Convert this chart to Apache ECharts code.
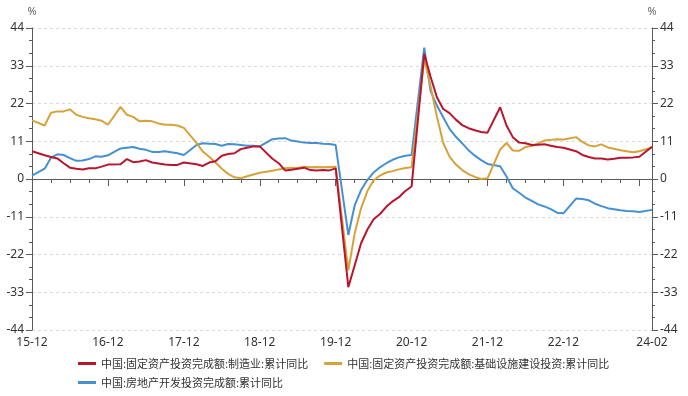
<!DOCTYPE html>
<html><head><meta charset="utf-8">
<script src="https://cdn.jsdelivr.net/npm/echarts@6/dist/echarts.min.js"></script>
<style>html,body{margin:0;padding:0;background:#fff}#c{width:688px;height:396px}</style>
</head><body><div id="c"></div>
<script>
var months = [
'15-12',
'16-01','16-02','16-03','16-04','16-05','16-06','16-07','16-08','16-09','16-10','16-11','16-12',
'17-01','17-02','17-03','17-04','17-05','17-06','17-07','17-08','17-09','17-10','17-11','17-12',
'18-01','18-02','18-03','18-04','18-05','18-06','18-07','18-08','18-09','18-10','18-11','18-12',
'19-01','19-02','19-03','19-04','19-05','19-06','19-07','19-08','19-09','19-10','19-11','19-12',
'20-01','20-02','20-03','20-04','20-05','20-06','20-07','20-08','20-09','20-10','20-11','20-12',
'21-01','21-02','21-03','21-04','21-05','21-06','21-07','21-08','21-09','21-10','21-11','21-12',
'22-01','22-02','22-03','22-04','22-05','22-06','22-07','22-08','22-09','22-10','22-11','22-12',
'23-01','23-02','23-03','23-04','23-05','23-06','23-07','23-08','23-09','23-10','23-11','23-12',
'24-01','24-02'];
var shownLabels = ['15-12','16-12','17-12','18-12','19-12','20-12','21-12','22-12','24-02'];
var yTicks = [-44,-33,-22,-11,0,11,22,33,44];

var nameMfg = '中国:固定资产投资完成额:制造业:累计同比';
var nameInfra = '中国:固定资产投资完成额:基础设施建设投资:累计同比';
var nameRE = '中国:房地产开发投资完成额:累计同比';

var mfg = [8.1,
null,6.9,6.4,6.0,4.6,3.3,3.0,2.8,3.1,3.1,3.6,4.2,
null,4.3,5.8,4.9,5.1,5.5,4.8,4.5,4.2,4.1,4.1,4.8,
null,4.3,3.8,4.8,5.2,6.8,7.3,7.5,8.7,9.1,9.5,9.5,
null,5.9,4.6,2.5,2.7,3.0,3.3,2.6,2.5,2.6,2.5,3.1,
null,-31.5,-25.2,-18.8,-14.8,-11.7,-10.2,-8.1,-6.5,-5.3,-3.5,-2.2,
null,36.5,29.8,23.8,20.4,19.2,17.3,15.7,14.8,14.2,13.7,13.5,
null,20.9,15.6,12.2,10.6,10.4,9.9,10.0,10.1,9.7,9.3,9.1,
null,8.1,7.0,6.4,6.0,6.0,5.7,5.9,6.2,6.2,6.3,6.5,
null,9.4];

var infra = [17.1,
null,15.6,19.3,19.7,19.7,20.3,18.7,18.1,17.7,17.4,17.0,15.8,
null,21.0,18.7,18.1,16.8,17.0,16.8,16.2,15.8,15.8,15.6,14.9,
null,10.5,8.0,6.5,4.8,3.0,1.5,0.5,0.2,0.8,1.3,1.8,
null,2.4,2.8,3.1,3.3,3.2,3.6,3.4,3.5,3.4,3.5,3.6,
null,-26.6,-15.9,-8.6,-3.6,-0.4,1.0,1.9,2.3,2.8,3.2,3.4,
null,35.0,27.0,18.2,10.5,6.5,4.2,2.6,1.4,0.6,0.0,0.2,
null,8.6,10.5,8.3,8.2,9.3,9.6,10.4,11.2,11.4,11.6,11.5,
null,12.2,10.8,9.8,9.5,10.1,9.2,8.8,8.4,8.1,7.8,8.1,
null,9.2];

var realEstate = [1.0,
null,3.0,6.2,7.2,7.0,6.1,5.3,5.4,5.8,6.6,6.5,6.9,
null,8.9,9.1,9.3,8.8,8.5,7.9,7.9,8.1,7.8,7.5,7.0,
null,9.9,10.4,10.3,10.2,9.7,10.2,10.1,9.9,9.7,9.7,9.5,
null,11.6,11.8,11.9,11.2,10.9,10.6,10.5,10.5,10.3,10.2,9.9,
null,-16.3,-7.7,-3.3,-0.3,1.9,3.4,4.6,5.6,6.3,6.8,7.0,
null,38.3,25.6,21.4,18.0,14.6,12.3,10.4,8.4,6.8,5.5,4.4,
null,3.7,0.7,-2.7,-4.0,-5.4,-6.4,-7.4,-8.0,-8.8,-9.8,-10.0,
null,-5.7,-5.8,-6.2,-7.2,-7.9,-8.5,-8.8,-9.1,-9.3,-9.4,-9.6,
null,-9.0];

var colRed = '#B8162E', colGold = '#D6A23A', colBlue = '#4690D2';
var axisCol = '#5a5a5a';
var numFont = 'Noto Sans';
var cjkFont = 'Noto Sans CJK SC';

var chart = echarts.init(document.getElementById('c'), null, {renderer: 'canvas'});

function yAxisCfg(pos) {
  return {
    type: 'value', position: pos, min: yTicks[0], max: yTicks[yTicks.length - 1], interval: 11,
    name: '%', nameLocation: 'end', nameGap: 11,
    nameTextStyle: {color: '#666', fontSize: 11, fontFamily: numFont, align: 'center'},
    axisLine: {show: true, lineStyle: {color: axisCol, width: 1}},
    axisTick: {show: true, length: 6, lineStyle: {color: axisCol}},
    minorTick: {show: true, splitNumber: 3, length: 3, lineStyle: {color: axisCol}},
    axisLabel: {color: '#333', fontSize: 12, fontFamily: numFont, margin: 8},
    splitLine: {show: pos === 'left', lineStyle: {color: '#d9d9d9', type: [3, 3], width: 1}},
    minorSplitLine: {show: false}
  };
}

function legendCfg(top, names) {
  return {
    left: 78, top: top, itemGap: 16, padding: [5, 0, 5, 0],
    icon: 'rect', itemWidth: 18, itemHeight: 3,
    textStyle: {color: '#333', fontSize: 11, fontFamily: cjkFont},
    data: names
  };
}

var option = {
  animation: false,
  grid: {left: 32, right: 36, top: 28, bottom: 66, containLabel: false},
  legend: [legendCfg(353, [nameMfg, nameInfra]), legendCfg(372, [nameRE])],
  xAxis: [{
    type: 'category', data: months, boundaryGap: false, position: 'bottom',
    axisLine: {show: true, lineStyle: {color: axisCol}},
    axisTick: {show: true, length: 4, interval: function (i) { return i % 3 === 0 || i === months.length - 1; }, lineStyle: {color: axisCol}},
    axisLabel: {
      color: '#333', fontSize: 12, fontFamily: numFont, margin: 7,
      interval: function (i, v) { return shownLabels.indexOf(v) >= 0; }
    },
    splitLine: {show: false}
  }, {
    type: 'category', data: months, boundaryGap: false, position: 'bottom',
    axisLine: {show: false},
    axisTick: {show: true, length: 7, interval: function (i) { return i % 12 === 0; }, lineStyle: {color: axisCol}},
    axisLabel: {show: false},
    splitLine: {show: false}
  }],
  yAxis: [yAxisCfg('left'), yAxisCfg('right')],
  series: [
    {name: nameRE, type: 'line', data: realEstate, connectNulls: true, showSymbol: false, symbol: 'none',
     lineStyle: {color: colBlue, width: 2}, itemStyle: {color: colBlue}, z: 2},
    {name: nameInfra, type: 'line', data: infra, connectNulls: true, showSymbol: false, symbol: 'none',
     lineStyle: {color: colGold, width: 2}, itemStyle: {color: colGold}, z: 3},
    {name: nameMfg, type: 'line', data: mfg, connectNulls: true, showSymbol: false, symbol: 'none',
     lineStyle: {color: colRed, width: 2}, itemStyle: {color: colRed}, z: 4}
  ]
};
chart.setOption(option);
</script>
</body></html>
